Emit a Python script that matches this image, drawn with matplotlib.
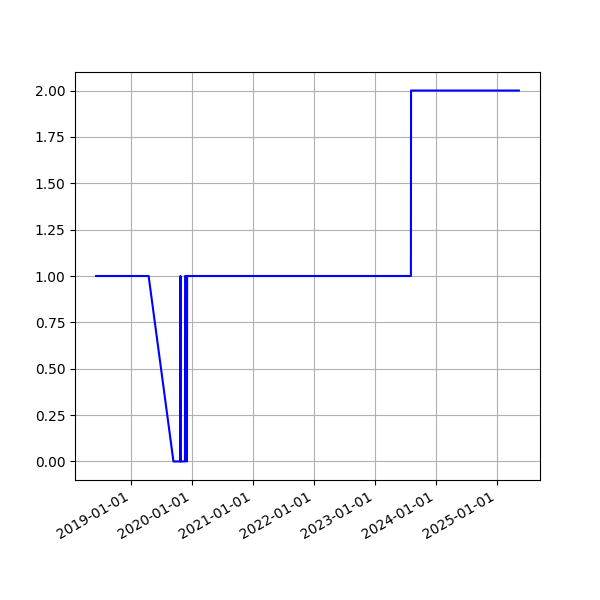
import pandas as pd
import matplotlib
matplotlib.use("Agg")
import matplotlib.pyplot as plt
import matplotlib.dates as mdates

# values
dates = [
    "2018-06-03", "2019-04-14", "2019-09-10", "2019-10-21", "2019-10-22",
    "2019-10-23", "2019-11-18", "2019-11-19", "2019-11-29", "2019-11-30",
    "2019-12-01", "2023-08-05", "2023-08-06", "2025-05-14",
]
values = [1, 1, 0, 0, 1, 0, 0, 1, 1, 0, 1, 1, 2, 2]

dates = pd.to_datetime(dates)

fig, ax = plt.subplots(figsize=(6, 6), dpi=100)
ax.plot(dates, values, color="blue")
ax.grid(True)
ax.xaxis.set_major_locator(mdates.YearLocator())
ax.xaxis.set_major_formatter(mdates.DateFormatter("%Y-%m-%d"))
fig.autofmt_xdate()

fig.savefig("out.png")
